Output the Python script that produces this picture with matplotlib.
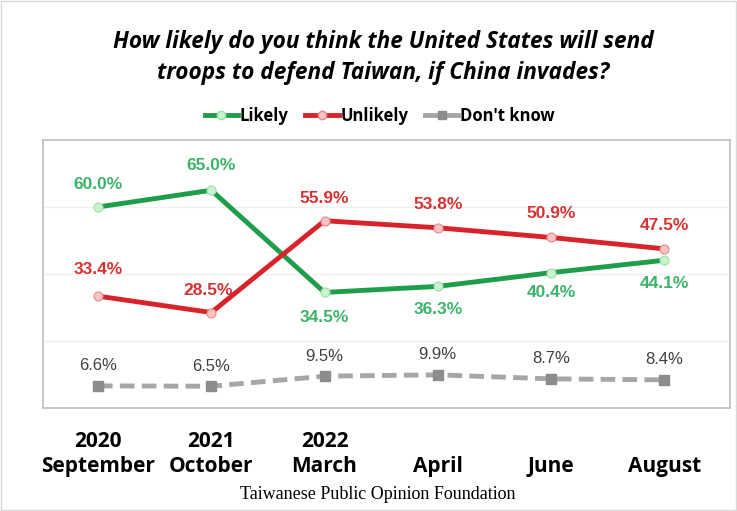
import matplotlib
matplotlib.use("Agg")
import matplotlib.pyplot as plt
from matplotlib.lines import Line2D

# data
periods = ["2020\nSeptember", "2021\nOctober", "2022\nMarch", "April", "June", "August"]
likely = [60.0, 65.0, 34.5, 36.3, 40.4, 44.1]
unlikely = [33.4, 28.5, 55.9, 53.8, 50.9, 47.5]
dont_know = [6.6, 6.5, 9.5, 9.9, 8.7, 8.4]

green = "#1e9e4a"
green_txt = "#3cb36a"
red = "#d9232b"
red_txt = "#d63232"
gray = "#a6a6a6"

fig = plt.figure(figsize=(7.37, 5.11), dpi=100)
ax = fig.add_axes([43 / 737, 103 / 511, 687 / 737, 268 / 511])

x = list(range(len(periods)))
ax.plot(x, likely, color=green, lw=3.5, marker="o", ms=6.5,
        mfc="#c9f2cf", mec="#9be0a8", mew=0.8, zorder=3)
ax.plot(x, unlikely, color=red, lw=3.5, marker="o", ms=6.5,
        mfc="#f7c3c3", mec="#e58a8a", mew=0.8, zorder=3)
ax.plot(x, dont_know, color=gray, lw=3.5, ls=(0, (3.0, 1.5)), marker="s", ms=6.5,
        mfc="#8c8c8c", mec="#8c8c8c", zorder=2)

ax.set_xlim(-0.486, 5.58)
ax.set_ylim(0, 80)
ax.set_yticks([20, 40, 60])
ax.yaxis.grid(True, color="#f0f0f0", lw=1)
ax.tick_params(left=False, labelleft=False, bottom=False, labelbottom=False)
for s in ax.spines.values():
    s.set_color("#bfbfbf")
    s.set_linewidth(1.2)

lab = dict(fontsize=12.5, fontweight="bold", ha="center", family="Liberation Sans")
like_off = [(0, 16), (0, 18), (0, -18), (0, -16.5), (0, -14.5), (0, -16.5)]
unl_off = [(0, 19), (-2, 16), (0, 16), (0, 16.5), (0, 17), (0, 17)]
for i in x:
    ax.annotate(f"{likely[i]:.1f}%", (i, likely[i]), xytext=like_off[i],
                textcoords="offset points", color=green_txt, va="center", **lab)
    ax.annotate(f"{unlikely[i]:.1f}%", (i, unlikely[i]), xytext=unl_off[i],
                textcoords="offset points", color=red_txt, va="center", **lab)
    ax.annotate(f"{dont_know[i]:.1f}%", (i, dont_know[i]), xytext=(0, 14.5),
                textcoords="offset points", color="#404040", va="center",
                fontsize=12, ha="center", family="Liberation Sans")

# category labels under the plot, bottom-aligned
for i, p in enumerate(periods):
    ax.annotate(p, (i, 0), xytext=(0, -50), textcoords="offset points",
                ha="center", va="bottom", fontsize=15, fontweight="bold",
                family="Open Sans", linespacing=1.25, annotation_clip=False)

fig.text(0.52, 0.888, "How likely do you think the United States will send\ntroops to defend Taiwan, if China invades?",
         ha="center", va="center", fontsize=16.3, fontweight="bold", style="italic",
         family="Open Sans", linespacing=1.4)

handles = [
    Line2D([], [], color=green, lw=3.5, marker="o", ms=6, mfc="#c9f2cf", mec="#9be0a8"),
    Line2D([], [], color=red, lw=3.5, marker="o", ms=6, mfc="#f7c3c3", mec="#e58a8a"),
    Line2D([], [], color=gray, lw=3.5, marker="s", ms=6, mfc="#8c8c8c", mec="#8c8c8c"),
]
fig.legend(handles, ["Likely", "Unlikely", "Don't know"], loc="center",
           bbox_to_anchor=(0.515, 0.773), ncol=3, frameon=False,
           prop={"family": "Open Sans", "weight": "bold", "size": 12},
           handlelength=2.0, handletextpad=0.1, columnspacing=1.0)

fig.text(0.513, 0.033, "Taiwanese Public Opinion Foundation", ha="center", va="center",
         fontsize=13, family="Liberation Serif")

fig.patches.append(plt.Rectangle((0.002, 0.002), 0.996, 0.996, transform=fig.transFigure,
                                 fill=False, ec="#d9d9d9", lw=1))

fig.savefig("out.png", dpi=100)
